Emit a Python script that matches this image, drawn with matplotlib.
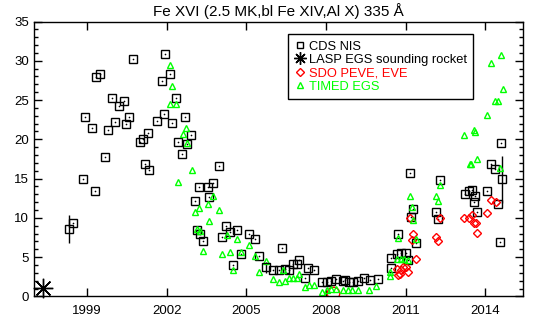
import numpy as np
import matplotlib
matplotlib.use("Agg")
import matplotlib.pyplot as plt
from matplotlib.lines import Line2D

plt.rcParams['font.family'] = ['Liberation Sans', 'DejaVu Sans']

# CDS NIS irradiances (decimal year, value)
cds_year = [1998.48, 1998.84, 1998.93, 1999.19, 1999.31, 1999.33, 1999.48,
            1999.68, 1999.80, 1999.95, 2000.06, 2000.21, 2000.40, 2000.48,
            2000.59, 2000.74, 2001.00, 2001.11, 2001.19, 2001.30, 2001.34,
            2001.64, 2001.83, 2001.90, 2001.93, 2002.11, 2002.20, 2002.36,
            2002.43, 2002.58, 2002.70, 2002.77, 2002.92, 2003.07, 2003.13,
            2003.22, 2003.27, 2003.37, 2003.56, 2003.60, 2003.75, 2003.98,
            2004.09, 2004.25, 2004.38, 2004.50, 2004.65, 2004.78, 2005.10,
            2005.33, 2005.46, 2006.00, 2006.21, 2006.35, 2006.44, 2006.61,
            2006.76, 2006.89, 2006.99, 2007.21, 2007.33, 2007.53, 2007.83,
            2008.02, 2008.20, 2008.38, 2008.63, 2008.73, 2008.85, 2009.00,
            2009.22, 2009.44, 2009.64, 2009.94, 2010.43, 2010.43, 2010.66,
            2010.72, 2010.82, 2011.03, 2011.09, 2011.16, 2011.21, 2011.28,
            2011.38, 2012.14, 2012.21, 2012.29, 2013.23, 2013.37, 2013.48,
            2013.56, 2013.62, 2013.69, 2014.06, 2014.21, 2014.37, 2014.48,
            2014.55, 2014.59]
cds_val = [9.3, 14.9, 22.9, 21.5, 13.4, 27.9, 28.3,
           17.7, 21.2, 25.3, 22.2, 24.2, 24.9, 21.9,
           22.8, 30.2, 19.7, 20.0, 16.8, 20.8, 16.1,
           22.3, 27.4, 23.2, 30.9, 28.3, 22.1, 25.3,
           19.7, 18.1, 22.9, 19.4, 20.5, 12.2, 8.4,
           13.9, 8.0, 7.1, 13.9, 12.6, 14.4, 16.6,
           7.5, 8.9, 8.2, 4.0, 8.4, 5.4, 7.9,
           7.3, 5.2, 3.3, 3.3, 6.1, 3.5, 3.3,
           4.1, 4.1, 4.6, 2.4, 3.6, 3.3, 1.8,
           1.8, 2.0, 2.2, 2.0, 2.1, 1.8, 1.8,
           2.0, 2.4, 2.1, 2.2, 3.6, 4.9, 5.4,
           8.0, 5.5, 5.5, 4.6, 15.7, 10.1, 11.1,
           6.75, 10.7, 9.8, 14.8, 13.1, 13.4, 13.5,
           12.0, 12.8, 10.7, 13.4, 16.9, 16.2, 11.8,
           6.9, 19.5]

# CDS points with uncertainties
cds_err_year = [1998.30, 2005.75, 2014.63]
cds_err_val = [8.6, 3.7, 14.9]
cds_err = [1.8, 0.7, 3.0]

# LASP EGS sounding rocket
lasp_year = [1997.35]
lasp_val = [1.1]

# SDO PEVE (2008 rocket) and EVE
peve_year = [2008.27]
peve_val = [0.4]
eve_year = [2010.66, 2010.72, 2010.78, 2010.81, 2010.90, 2011.00, 2011.09,
            2011.38, 2011.16, 2011.22, 2011.26, 2012.14, 2012.20, 2012.31,
            2013.20, 2013.39, 2013.48, 2013.57, 2013.63, 2013.69, 2014.06,
            2014.20, 2014.40]
eve_val = [3.45, 2.7, 2.9, 3.36, 3.8, 3.8, 3.1,
           4.75, 10.0, 7.2, 7.9, 7.5, 7.0, 10.0,
           10.0, 10.0, 10.3, 9.3, 9.4, 8.1, 10.6,
           12.3, 12.0]

# TIMED EGS
egs_year = [2002.11, 2002.20, 2002.11, 2002.34, 2002.43, 2002.60, 2002.71,
            2002.77, 2002.94, 2003.07, 2003.14, 2003.20, 2003.27, 2003.36,
            2003.56, 2003.61, 2003.74, 2003.98, 2004.08, 2004.28, 2004.37,
            2004.50, 2004.65, 2004.78, 2005.10, 2005.32, 2005.46, 2005.75,
            2006.01, 2006.21, 2006.36, 2006.46, 2006.61, 2006.76, 2006.89,
            2006.99, 2007.21, 2007.34, 2007.54, 2007.83, 2008.02, 2008.20,
            2008.38, 2008.63, 2008.82, 2008.98, 2009.20, 2009.62, 2009.90,
            2010.41, 2010.41, 2010.66, 2010.72, 2010.82, 2010.94, 2011.09,
            2011.17, 2011.23, 2011.28, 2011.37, 2012.14, 2012.20, 2012.29,
            2013.20, 2013.42, 2013.45, 2013.56, 2013.62, 2013.68, 2014.06,
            2014.21, 2014.36, 2014.48, 2014.55, 2014.60, 2014.66]
egs_val = [29.4, 26.8, 24.5, 24.5, 14.6, 20.7, 21.4,
           19.5, 16.1, 10.7, 8.6, 11.3, 8.3, 5.8,
           11.8, 9.6, 12.8, 11.0, 5.4, 7.8, 5.7,
           3.3, 7.3, 5.6, 6.5, 5.2, 3.1, 4.5,
           2.25, 1.8, 3.4, 2.0, 2.4, 2.4, 2.4,
           2.9, 1.2, 1.45, 1.5, 0.5, 0.8, 0.9,
           0.9, 0.75, 0.8, 0.8, 0.75, 0.8, 1.3,
           3.1, 2.6, 4.7, 7.4, 4.7, 4.7, 4.6,
           12.8, 11.4, 9.7, 7.3, 12.8, 12.1, 14.2,
           20.6, 16.8, 16.9, 21.2, 20.9, 17.5, 23.1,
           29.7, 24.9, 24.85, 16.3, 30.7, 26.4]

year_ticks = [1999, 2002, 2005, 2008, 2011, 2014]

GREEN = '#00ff00'
RED = '#ff0000'

fig = plt.figure(figsize=(5.53, 3.23), dpi=100)
ax = fig.add_axes([0.0615, 0.0824, 0.8848, 0.851])

# CDS NIS: open squares with a centre dot
ax.plot(cds_year, cds_val, 's', ms=5.5, mfc='none', mec='black', mew=1.0)
ax.plot(cds_year, cds_val, 'o', ms=1.2, mfc='black', mec='black', mew=0)
ax.errorbar(cds_err_year, cds_err_val, yerr=cds_err, fmt='s', ms=5.5,
            mfc='none', mec='black', mew=1.0, ecolor='black', elinewidth=1.0,
            capsize=0)

# LASP rocket asterisk
ax.plot(lasp_year, lasp_val, marker=(8, 2, 0), ms=14, color='black',
        mew=1.0, linestyle='none', clip_on=False)

# SDO PEVE / EVE
ax.plot(peve_year, peve_val, marker='o', ms=9, mfc='none', mec=RED,
        mew=1.0, linestyle='none', clip_on=True)
ax.plot(eve_year, eve_val, 'D', ms=4.2, mfc='none', mec=RED, mew=1.0)

# TIMED EGS
ax.plot(egs_year, egs_val, '^', ms=4.8, mfc='none', mec=GREEN, mew=1.0)

ax.set_xlim(1997.0, 2015.43)
ax.set_ylim(0, 35)
ax.set_xticks(year_ticks)
ax.set_xticklabels([str(y) for y in year_ticks])
ax.set_yticks(np.arange(0, 36, 5))
ax.set_yticks(np.arange(0, 36, 1), minor=True)
ax.tick_params(which='both', direction='in', top=True, right=True,
               labelsize=9.5, width=1.0, color='black')
ax.tick_params(which='major', length=6)
ax.tick_params(which='minor', length=3)
ax.tick_params(axis='x', which='major', pad=6)
ax.tick_params(axis='x', which='minor', bottom=False, top=False)
for s in ax.spines.values():
    s.set_linewidth(1.0)

ax.set_title('Fe XVI (2.5 MK,bl Fe XIV,Al X) 335 Å', fontsize=11, pad=4)

handles = [
    Line2D([], [], marker='s', ms=5, mfc='none', mec='black', mew=1.0,
           linestyle='none'),
    Line2D([], [], marker=(8, 2, 0), ms=9, color='black', mew=1.0,
           linestyle='none'),
    Line2D([], [], marker='D', ms=4, mfc='none', mec=RED, mew=1.0,
           linestyle='none'),
    Line2D([], [], marker='^', ms=4.5, mfc='none', mec=GREEN, mew=1.0,
           linestyle='none'),
]
labels = ['CDS NIS', 'LASP EGS sounding rocket', 'SDO PEVE, EVE', 'TIMED EGS']
leg = ax.legend(handles, labels, loc='upper left',
                bbox_to_anchor=(0.519, 0.9545), borderaxespad=0,
                fancybox=False, framealpha=1, edgecolor='black',
                fontsize=9.3, handlelength=0.8, handletextpad=0.3,
                labelspacing=0.1, borderpad=0.5,
                labelcolor=['black', 'black', RED, GREEN])
leg.get_frame().set_linewidth(1.0)

fig.savefig('out.png', dpi=100)
